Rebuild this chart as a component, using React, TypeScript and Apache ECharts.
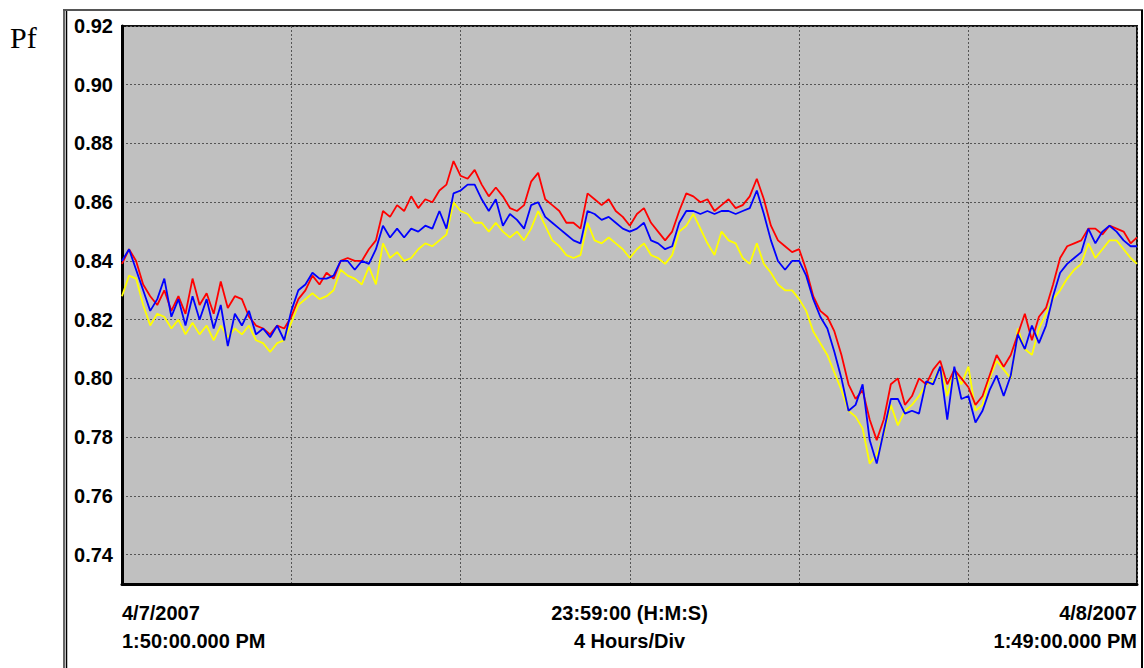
import React, { useEffect, useRef } from "react";
import * as echarts from "echarts";

// Sample times, minutes after 4/7/2007 1:50 PM (10-minute grid, last sample at 23:59)
const SAMPLE_TIMES: number[] = Array.from({ length: 144 }, (_, i) => i * 10).concat([1439]);

const RED: number[] = [
  0.839, 0.844, 0.840, 0.832, 0.828, 0.825, 0.830, 0.823, 0.828, 0.822,
  0.834, 0.825, 0.829, 0.822, 0.833, 0.824, 0.828, 0.827, 0.821, 0.818,
  0.817, 0.815, 0.818, 0.817, 0.821, 0.827, 0.830, 0.835, 0.832, 0.836,
  0.834, 0.840, 0.841, 0.840, 0.840, 0.844, 0.847, 0.857, 0.855, 0.859,
  0.857, 0.862, 0.858, 0.861, 0.860, 0.864, 0.866, 0.874, 0.869, 0.868,
  0.871, 0.866, 0.862, 0.865, 0.862, 0.858, 0.857, 0.859, 0.867, 0.870,
  0.861, 0.859, 0.857, 0.853, 0.853, 0.851, 0.863, 0.861, 0.859, 0.861,
  0.857, 0.855, 0.852, 0.856, 0.858, 0.853, 0.850, 0.847, 0.850, 0.857,
  0.863, 0.862, 0.860, 0.861, 0.857, 0.859, 0.861, 0.858, 0.859, 0.862,
  0.868, 0.861, 0.852, 0.847, 0.845, 0.843, 0.844, 0.837, 0.828, 0.823,
  0.821, 0.816, 0.808, 0.798, 0.793, 0.796, 0.786, 0.779, 0.786, 0.798,
  0.800, 0.791, 0.794, 0.800, 0.798, 0.803, 0.806, 0.798, 0.803, 0.800,
  0.797, 0.791, 0.794, 0.801, 0.808, 0.804, 0.808, 0.815, 0.822, 0.813,
  0.821, 0.824, 0.832, 0.841, 0.845, 0.846, 0.847, 0.851, 0.851, 0.849,
  0.852, 0.851, 0.850, 0.846, 0.848,
];

const BLUE: number[] = [
  0.840, 0.844, 0.837, 0.830, 0.823, 0.827, 0.834, 0.821, 0.827, 0.818,
  0.828, 0.820, 0.827, 0.817, 0.825, 0.811, 0.822, 0.818, 0.823, 0.815,
  0.817, 0.814, 0.818, 0.813, 0.823, 0.830, 0.832, 0.836, 0.834, 0.834,
  0.835, 0.840, 0.840, 0.837, 0.840, 0.839, 0.844, 0.852, 0.848, 0.851,
  0.848, 0.851, 0.850, 0.852, 0.851, 0.857, 0.851, 0.863, 0.864, 0.866,
  0.866, 0.861, 0.857, 0.861, 0.852, 0.856, 0.854, 0.851, 0.859, 0.860,
  0.855, 0.853, 0.851, 0.849, 0.847, 0.846, 0.857, 0.856, 0.854, 0.855,
  0.853, 0.851, 0.850, 0.851, 0.853, 0.847, 0.846, 0.844, 0.845, 0.853,
  0.857, 0.857, 0.856, 0.857, 0.856, 0.857, 0.857, 0.856, 0.857, 0.858,
  0.864, 0.856, 0.847, 0.840, 0.837, 0.840, 0.840, 0.835, 0.827, 0.821,
  0.817, 0.809, 0.800, 0.789, 0.791, 0.798, 0.779, 0.771, 0.782, 0.793,
  0.793, 0.788, 0.789, 0.788, 0.799, 0.798, 0.804, 0.786, 0.804, 0.793,
  0.794, 0.785, 0.789, 0.796, 0.801, 0.794, 0.801, 0.815, 0.810, 0.818,
  0.812, 0.818, 0.828, 0.836, 0.839, 0.841, 0.843, 0.851, 0.846, 0.850,
  0.852, 0.850, 0.847, 0.845, 0.845,
];

const YELLOW: number[] = [
  0.828, 0.835, 0.834, 0.825, 0.818, 0.822, 0.821, 0.817, 0.820, 0.815,
  0.819, 0.815, 0.818, 0.813, 0.818, 0.814, 0.817, 0.815, 0.818, 0.813,
  0.812, 0.809, 0.812, 0.813, 0.819, 0.825, 0.827, 0.829, 0.827, 0.828,
  0.830, 0.837, 0.835, 0.834, 0.832, 0.838, 0.832, 0.846, 0.841, 0.843,
  0.840, 0.841, 0.844, 0.846, 0.845, 0.847, 0.849, 0.860, 0.857, 0.856,
  0.853, 0.853, 0.850, 0.853, 0.850, 0.848, 0.850, 0.847, 0.851, 0.857,
  0.852, 0.847, 0.845, 0.842, 0.841, 0.842, 0.853, 0.847, 0.846, 0.848,
  0.846, 0.844, 0.841, 0.844, 0.846, 0.842, 0.841, 0.839, 0.842, 0.850,
  0.852, 0.856, 0.851, 0.846, 0.842, 0.850, 0.847, 0.846, 0.841, 0.839,
  0.846, 0.839, 0.836, 0.832, 0.830, 0.830, 0.827, 0.823, 0.816, 0.812,
  0.808, 0.802, 0.796, 0.789, 0.787, 0.783, 0.771, 0.774, 0.781, 0.791,
  0.784, 0.789, 0.791, 0.794, 0.798, 0.799, 0.804, 0.794, 0.803, 0.798,
  0.804, 0.789, 0.791, 0.800, 0.806, 0.803, 0.800, 0.817, 0.810, 0.808,
  0.817, 0.822, 0.827, 0.830, 0.834, 0.837, 0.839, 0.846, 0.841, 0.844,
  0.847, 0.847, 0.844, 0.841, 0.839,
];

const Y_MIN = 0.73;
const Y_MAX = 0.92;
const X_MIN = 0;
const X_MAX = 1439;
const START_LABEL = "4/7/2007\n1:50:00.000 PM";
const END_LABEL = "4/8/2007\n1:49:00.000 PM";
const CENTER_LABEL = "23:59:00 (H:M:S)\n4 Hours/Div";
const Y_TITLE = "Pf";

const FONT = "'Liberation Sans', Arial, sans-serif";

export default function App() {
  const ref = useRef<HTMLDivElement>(null);

  useEffect(() => {
    document.body.style.margin = "0";
    if (!ref.current) return;
    const chart = echarts.init(ref.current, undefined, { renderer: "svg" });
    const pairs = (vals: number[]) => vals.map((v, i) => [SAMPLE_TIMES[i], v]);
    const lineSeries = (name: string, vals: number[], color: string) => ({
      name,
      type: "line",
      data: pairs(vals),
      showSymbol: false,
      symbol: "none",
      lineStyle: { color, width: 1.8 },
      itemStyle: { color },
      silent: true,
    });

    chart.setOption({
      animation: false,
      backgroundColor: "#ffffff",
      grid: {
        left: 122,
        top: 26,
        right: 7,
        bottom: 84,
        containLabel: false,
        outerBoundsMode: "none",
        show: true,
        backgroundColor: "#c0c0c0",
        borderColor: "#111111",
        borderWidth: 2,
      },
      xAxis: {
        type: "value",
        min: X_MIN,
        max: X_MAX,
        interval: 240,
        axisLine: { show: true, lineStyle: { color: "#000", width: 3 } },
        axisTick: { show: false },
        splitLine: { show: true, lineStyle: { color: "#555", type: [2, 2], width: 1 } },
        axisLabel: {
          show: true,
          margin: 15,
          fontSize: 20,
          fontWeight: "bold",
          fontFamily: FONT,
          color: "#000",
          lineHeight: 28,
          alignMinLabel: "left",
          alignMaxLabel: "right",
          showMinLabel: true,
          showMaxLabel: true,
          formatter: (v: number) => (v === X_MIN ? START_LABEL : v === X_MAX ? END_LABEL : ""),
        },
        name: CENTER_LABEL,
        nameLocation: "middle",
        nameGap: 15,
        nameMoveOverlap: false,
        nameTextStyle: {
          fontSize: 20,
          fontWeight: "bold",
          fontFamily: FONT,
          color: "#000",
          lineHeight: 28,
          verticalAlign: "top",
        },
      },
      yAxis: {
        type: "value",
        min: Y_MIN,
        max: Y_MAX,
        interval: 0.01,
        axisLine: { show: true, lineStyle: { color: "#000", width: 3 } },
        axisTick: { show: false },
        splitLine: {
          show: true,
          lineStyle: { color: ["rgba(0,0,0,0)", "#555"], type: [2, 2], width: 1 },
        },
        axisLabel: {
          margin: 9,
          fontSize: 20,
          fontWeight: "bold",
          fontFamily: FONT,
          color: "#000",
          formatter: (v: number) => (Math.round(v * 100) % 2 === 0 ? v.toFixed(2) : ""),
        },
      },
      graphic: [
        { type: "line", shape: { x1: 64, y1: 10, x2: 64, y2: 668 }, style: { stroke: "#666", lineWidth: 2 }, silent: true },
        { type: "line", shape: { x1: 66.5, y1: 11, x2: 66.5, y2: 668 }, style: { stroke: "#000", lineWidth: 1.5 }, silent: true },
        { type: "line", shape: { x1: 63, y1: 10, x2: 1143, y2: 10 }, style: { stroke: "#555", lineWidth: 2 }, silent: true },
        { type: "line", shape: { x1: 1142, y1: 10, x2: 1142, y2: 668 }, style: { stroke: "#000", lineWidth: 2 }, silent: true },
        {
          type: "text",
          left: 10,
          top: 22,
          style: { text: Y_TITLE, fontSize: 30, fontFamily: "'Liberation Serif', 'Times New Roman', serif", fill: "#000" },
          silent: true,
        },
      ],
      series: [
        lineSeries("Yellow", YELLOW, "#ffff00"),
        lineSeries("Red", RED, "#ff0000"),
        lineSeries("Blue", BLUE, "#0000ff"),
      ],
    });

    return () => chart.dispose();
  }, []);

  return <div ref={ref} style={{ width: 1144, height: 668 }} />;
}
